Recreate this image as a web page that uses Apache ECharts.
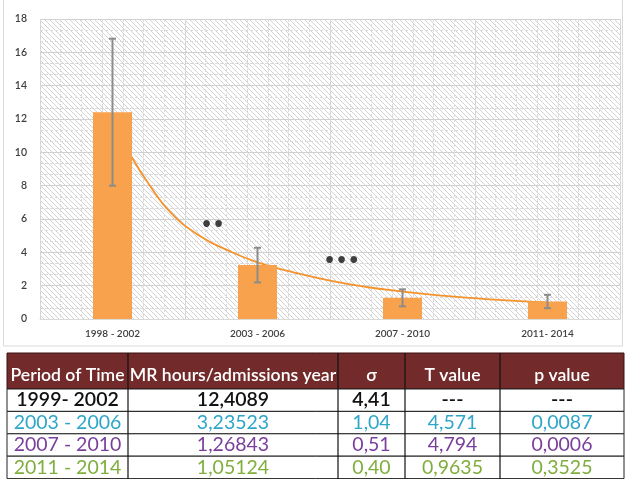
<!DOCTYPE html>
<html>
<head>
<meta charset="utf-8">
<script src="https://cdn.jsdelivr.net/npm/echarts@6/dist/echarts.min.js"></script>
<style>
html,body{margin:0;padding:0;background:#fff;}
#main{width:625px;height:479px;}
</style>
</head>
<body>
<div id="main"></div>
<script>
// ---- data ----
const categories = ['1998 - 2002', '2003 - 2006', '2007 - 2010', '2011- 2014'];
const mrHours = [12.4089, 3.23523, 1.26843, 1.05124];
const sigma = [4.41, 1.04, 0.51, 0.40];
const yTicks = [0, 2, 4, 6, 8, 10, 12, 14, 16, 18];
// trend curve (x in category units, 1 = first bar)
const trendX = [1.0, 1.14, 1.25, 1.4, 1.6, 1.8, 2.0, 2.25, 2.5, 2.75, 3.0, 3.25, 3.5, 3.75, 4.0];
const trendY = [11.9, 9.6, 8.1, 6.4, 5.0, 4.1, 3.4, 2.8, 2.3, 1.92, 1.65, 1.42, 1.25, 1.1, 1.0];
// significance marks
const markText = ['••', '•••'];
const markX = [1.69, 2.58];
const markY = [5.6, 3.4];
// table
const tableHeader = ['Period of Time', 'MR hours/admissions year', 'σ', 'T value', 'p value'];
const tablePeriods = ['1999- 2002', '2003 - 2006', '2007 - 2010', '2011 - 2014'];
const tableMR = ['12,4089', '3,23523', '1,26843', '1,05124'];
const tableSigma = ['4,41', '1,04', '0,51', '0,40'];
const tableT = ['---', '4,571', '4,794', '0,9635'];
const tableP = ['---', '0,0087', '0,0006', '0,3525'];

// ---- styles ----
const rowColors = ['#111111', '#2ea6c8', '#7a3f9d', '#7fae3c'];
const FONT = 'Lato, "Open Sans", sans-serif';

const hatch = document.createElement('canvas');
hatch.width = 5; hatch.height = 5;
(function () {
  const c = hatch.getContext('2d');
  c.fillStyle = '#ffffff'; c.fillRect(0, 0, 5, 5);
  c.fillStyle = '#d2d2d2';
  for (let i = 0; i < 5; i++) c.fillRect(i, i, 1, 1);
})();

const chart = echarts.init(document.getElementById('main'), null, {renderer: 'canvas'});

// table graphics
const colEdges = [7, 128, 338, 405, 500, 624];
const headTop = 353, headH = 36, rowH = 22.4;
const graphics = [];
graphics.push({type: 'rect', shape: {x: 3.5, y: -5, width: 619, height: 351}, style: {fill: 'none', stroke: '#d9d9d9', lineWidth: 1}, z: -10});
graphics.push({type: 'rect', shape: {x: colEdges[0], y: headTop, width: colEdges[5] - colEdges[0], height: headH}, style: {fill: '#722b2a', stroke: '#3a1212', lineWidth: 1}});
const rowsData = [tablePeriods, tableMR, tableSigma, tableT, tableP];
for (let c = 0; c < 5; c++) {
  const cx = (colEdges[c] + colEdges[c + 1]) / 2;
  graphics.push({type: 'text', x: cx, y: headTop + headH / 2 + 4, style: {text: tableHeader[c], fill: '#ffffff', font: '600 17.6px ' + FONT, textAlign: 'center', textVerticalAlign: 'middle'}});
}
for (let r = 0; r < 4; r++) {
  const top = headTop + headH + r * rowH;
  graphics.push({type: 'rect', shape: {x: colEdges[0], y: top, width: colEdges[5] - colEdges[0], height: rowH}, style: {fill: '#ffffff', stroke: '#222222', lineWidth: 1}});
  for (let c = 0; c < 5; c++) {
    const cx = (colEdges[c] + colEdges[c + 1]) / 2;
    graphics.push({type: 'text', x: cx, y: top + rowH / 2, style: {text: rowsData[c][r], fill: rowColors[r], font: (r === 0 ? '600 ' : '400 ') + '19.5px ' + FONT, textAlign: 'center', textVerticalAlign: 'middle'}});
  }
}
for (let c = 1; c < 5; c++) {
  graphics.push({type: 'line', shape: {x1: colEdges[c], y1: headTop, x2: colEdges[c], y2: 479}, style: {stroke: '#111111', lineWidth: 1.2}});
}

const option = {
  animation: false,
  backgroundColor: '#ffffff',
  grid: {left: 40, right: 5, top: 19, bottom: 160, show: true, borderWidth: 0,
    backgroundColor: {image: hatch, repeat: 'repeat'}},
  xAxis: [
    {type: 'category', data: categories, gridIndex: 0,
      axisLine: {show: true, lineStyle: {color: '#d9d9d9'}}, axisTick: {show: false},
      axisLabel: {color: '#404040', fontSize: 10, fontWeight: 600, fontFamily: FONT, margin: 10},
      splitLine: {show: true, lineStyle: {color: '#d0d0d0', width: 1}}},
    {type: 'value', min: 0, max: 28, interval: 1, gridIndex: 0,
      axisLine: {show: false}, axisTick: {show: false}, axisLabel: {show: false},
      splitLine: {show: true, lineStyle: {color: '#dadada', type: [3, 2], width: 1}}},
    {type: 'value', min: 0, max: 4, gridIndex: 0, show: false}
  ],
  yAxis: {type: 'value', min: yTicks[0], max: yTicks[yTicks.length - 1], interval: yTicks[1] - yTicks[0],
    axisLine: {show: false}, axisTick: {show: false},
    axisLabel: {color: '#404040', fontSize: 10.5, fontWeight: 600, fontFamily: FONT, margin: 13},
    splitLine: {show: true, lineStyle: {color: '#d0d0d0', width: 1.2}},
    minorTick: {show: false, splitNumber: 3},
    minorSplitLine: {show: true, lineStyle: {color: '#dadada', type: [3, 2]}}},
  series: [
    {type: 'line', xAxisIndex: 2, smooth: true, symbol: 'none', z: 1,
      lineStyle: {color: '#f5922c', width: 1.8},
      data: trendX.map((x, i) => [x - 0.5, trendY[i]])},
    {type: 'bar', xAxisIndex: 0, data: mrHours, barWidth: 39, z: 2,
      itemStyle: {color: '#f9a24d'}},
    {type: 'custom', xAxisIndex: 0, z: 3,
      data: mrHours.map((v, i) => [i, v - sigma[i], v + sigma[i]]),
      renderItem: function (params, api) {
        const lo = api.coord([api.value(0), api.value(1)]);
        const hi = api.coord([api.value(0), api.value(2)]);
        const w = 3.5;
        const st = {stroke: '#8c8c8c', lineWidth: 2};
        return {type: 'group', children: [
          {type: 'line', shape: {x1: lo[0], y1: lo[1], x2: hi[0], y2: hi[1]}, style: st},
          {type: 'line', shape: {x1: lo[0] - w, y1: lo[1], x2: lo[0] + w, y2: lo[1]}, style: st},
          {type: 'line', shape: {x1: hi[0] - w, y1: hi[1], x2: hi[0] + w, y2: hi[1]}, style: st}
        ]};
      }},
    {type: 'scatter', xAxisIndex: 2, symbolSize: 0, z: 4,
      data: markX.map((x, i) => [x - 0.5, markY[i]]),
      label: {show: true, position: 'inside', color: '#111111', fontSize: 19, fontWeight: 'bold', fontFamily: '"DejaVu Sans"',
        formatter: function (p) { return markText[p.dataIndex]; }}}
  ],
  graphic: graphics
};
chart.setOption(option);
</script>
</body>
</html>
